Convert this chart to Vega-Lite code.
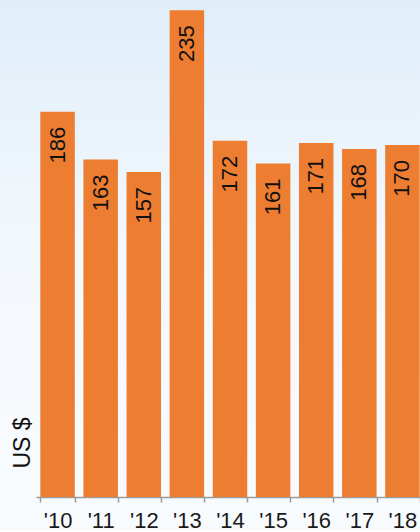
{
  "$schema": "https://vega.github.io/schema/vega-lite/v6.json",
  "width": 424,
  "height": 497,
  "padding": 0,
  "background": "#f8fbfd",
  "view": {
    "stroke": null,
    "fill": {
      "gradient": "linear",
      "x1": 0, "y1": 0, "x2": 0, "y2": 1,
      "stops": [
        {"offset": 0, "color": "#e0eef9"},
        {"offset": 0.5, "color": "#f3f8fd"},
        {"offset": 1, "color": "#f8fbfe"}
      ]
    }
  },
  "config": {
    "font": "Liberation Sans"
  },
  "data": {
    "values": [
      {"year": "'10", "value": 186},
      {"year": "'11", "value": 163},
      {"year": "'12", "value": 157},
      {"year": "'13", "value": 235},
      {"year": "'14", "value": 172},
      {"year": "'15", "value": 161},
      {"year": "'16", "value": 171},
      {"year": "'17", "value": 168},
      {"year": "'18", "value": 170}
    ]
  },
  "encoding": {
    "x": {
      "field": "year",
      "type": "nominal",
      "sort": null,
      "scale": {"range": [36, 424], "paddingInner": 0.2, "paddingOuter": 0.1},
      "axis": {
        "title": null,
        "labelAngle": 0,
        "labelFontSize": 22,
        "labelColor": "#1a1a1a",
        "labelPadding": 8,
        "domainColor": "#9a9a9a",
        "domainWidth": 1.5,
        "tickColor": "#9a9a9a",
        "tickWidth": 1.5,
        "tickSize": 5,
        "tickBand": "extent"
      }
    },
    "y": {
      "field": "value",
      "type": "quantitative",
      "scale": {"domain": [0, 240], "nice": false},
      "axis": {
        "title": "US $",
        "labels": false,
        "ticks": false,
        "domain": false,
        "grid": false,
        "titleFontSize": 23,
        "titleFontWeight": "normal",
        "titleColor": "#111111",
        "titleAngle": 270,
        "titleAlign": "left",
        "titleBaseline": "middle",
        "titleX": 22,
        "titleY": 468
      }
    }
  },
  "layer": [
    {"mark": {"type": "bar", "color": "#ED7D31"}},
    {
      "mark": {
        "type": "text",
        "angle": 270,
        "align": "right",
        "baseline": "middle",
        "dx": -15,
        "fontSize": 22,
        "color": "#111111"
      },
      "encoding": {"text": {"field": "value", "type": "quantitative"}}
    }
  ]
}
